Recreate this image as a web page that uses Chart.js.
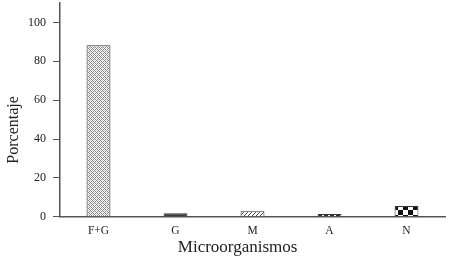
<!DOCTYPE html>
<html><head><meta charset="utf-8">
<script src="https://cdn.jsdelivr.net/npm/chart.js@4"></script>
<style>html,body{margin:0;padding:0;background:#fff}#wrap{width:450px;height:259px}</style>
</head><body><div id="wrap"><canvas id="c" width="450" height="259"></canvas></div>
<script>
const categories = ['F+G','G','M','A','N'];
const values = [88.3, 1.8, 2.8, 1.4, 5.6];
const yTicks = [0,20,40,60,80,100];

function pat(size, draw, tx){
  const cv=document.createElement('canvas'); cv.width=size; cv.height=size;
  const g=cv.getContext('2d'); g.fillStyle='#fff'; g.fillRect(0,0,size,size); draw(g,size);
  const p=g.createPattern(cv,'repeat');
  if(tx && p.setTransform){ p.setTransform(new DOMMatrix().translate(tx,0)); }
  return p;
}
const ctx0=document.getElementById('c').getContext('2d');
const patterns=[
  pat(4,(g)=>{g.fillStyle='#808080'; g.fillRect(0,0,1,1);g.fillRect(2,2,1,1);g.fillRect(1,1,1,1);g.fillRect(3,3,1,1);g.fillRect(3,1,1,1);g.fillRect(1,3,1,1);g.fillStyle='#c8c8c8';g.fillRect(2,0,1,1);g.fillRect(0,2,1,1);}),
  pat(4,(g)=>{g.fillStyle='#3a3a3a'; g.fillRect(0,0,4,4);}),
  pat(4,(g)=>{g.strokeStyle='#444'; g.lineWidth=1; g.beginPath(); g.moveTo(0,4); g.lineTo(4,0); g.stroke();}),
  pat(6,(g)=>{g.fillStyle='#333'; g.fillRect(0,0,4,6);}),
  pat(10,(g)=>{g.fillStyle='#111'; g.fillRect(0,0,5,5); g.fillRect(5,5,5,5);},8)
];
const NB='\u00a0';
new Chart(ctx0,{
  type:'bar',
  data:{labels:categories,datasets:[{data:values,backgroundColor:patterns,borderColor:'#333',borderWidth:1,barPercentage:0.62,categoryPercentage:0.5}]},
  options:{
    responsive:false,animation:false,
    layout:{padding:{top:3,right:5,left:0,bottom:1}},
    plugins:{legend:{display:false},tooltip:{enabled:false}},
    scales:{
      x:{grid:{display:false,drawTicks:false},border:{color:'#555',width:1.5},
         ticks:{color:'#222',font:{family:'Liberation Serif',size:11.5},padding:7},
         title:{display:true,text:'Microorganismos'+NB.repeat(7),color:'#222',font:{family:'Liberation Serif',size:17},padding:{top:-7,bottom:0}}},
      y:{min:0,max:110,afterBuildTicks:(a)=>{a.ticks=yTicks.map(v=>({value:v}));},
         afterFit:(a)=>{a.width=60;a.paddingTop=0;},
         grid:{drawOnChartArea:false,drawTicks:true,tickLength:7,color:'#555'},border:{color:'#555',width:1.5},
         ticks:{color:'#222',font:{family:'Liberation Serif',size:12},padding:7},
         title:{display:true,text:'Porcentaje'+NB.repeat(10),color:'#222',font:{family:'Liberation Serif',size:16},padding:{top:4,bottom:8}}}
    }
  }
});
</script></body></html>
